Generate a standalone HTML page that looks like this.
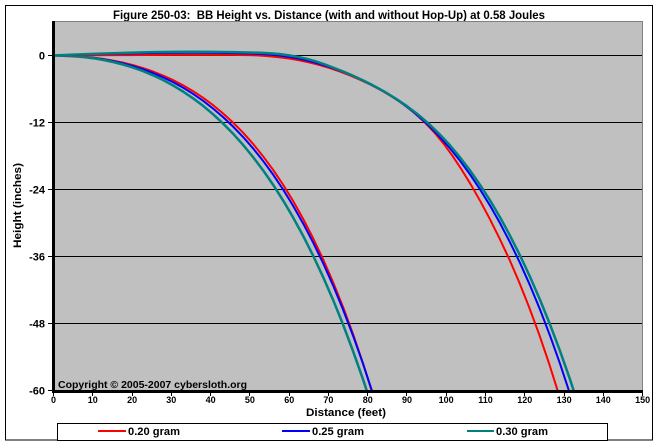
<!DOCTYPE html>
<html><head><meta charset="utf-8"><style>
html,body{margin:0;padding:0;background:#fff;}
svg{display:block;}
text{font-family:"Liberation Sans",Arial,sans-serif;font-weight:bold;fill:#000;}
</style></head><body>
<svg width="658" height="445" viewBox="0 0 658 445" xmlns="http://www.w3.org/2000/svg">
<defs><clipPath id="pc"><rect x="53" y="21" width="589" height="370"/></clipPath></defs>
<rect x="0" y="0" width="658" height="445" fill="#fff"/>
<rect x="5.5" y="5.5" width="647" height="434.5" fill="none" stroke="#000" stroke-width="1"/>
<text x="113" y="19" font-size="12" textLength="432" lengthAdjust="spacingAndGlyphs" style="white-space:pre">Figure 250-03:  BB Height vs. Distance (with and without Hop-Up) at 0.58 Joules</text>
<rect x="53" y="21" width="589" height="370" fill="#c0c0c0"/>
<g shape-rendering="crispEdges">
<line x1="53" y1="21.5" x2="642" y2="21.5" stroke="#808080" stroke-width="1"/>
<line x1="642.5" y1="21" x2="642.5" y2="391" stroke="#808080" stroke-width="1"/>
<line x1="53" y1="55.5" x2="642" y2="55.5" stroke="#000" stroke-width="1"/>
<line x1="53" y1="122.5" x2="642" y2="122.5" stroke="#000" stroke-width="1"/>
<line x1="53" y1="189.5" x2="642" y2="189.5" stroke="#000" stroke-width="1"/>
<line x1="53" y1="256.5" x2="642" y2="256.5" stroke="#000" stroke-width="1"/>
<line x1="53" y1="323.5" x2="642" y2="323.5" stroke="#000" stroke-width="1"/>
</g>
<g clip-path="url(#pc)" fill="none" stroke-linejoin="round" stroke-linecap="round">
<!-- no hop-up -->
<polyline stroke="#ff0000" stroke-width="2" points="53,55.5 63,55.6 73,56 83,56.7 93,57.6 103,58.9 113,60.6 123,62.6 133,65.1 143,68.1 153,71.5 163,75.5 173,80 183,85.2 193,91.1 203,97.7 213,105.1 223,113.4 233,122.5 243,132.6 253,143.8 263,156.2 273,169.7 283,184.5 293,200.8 303,218.6 313,238 323,259 333,282 343,306.9 353,334 363,363.3 373,395"/>
<polyline stroke="#0000ff" stroke-width="2" points="53,55.5 63,55.6 73,56.1 83,56.8 93,57.9 103,59.3 113,61.1 123,63.4 133,66.1 143,69.3 153,73 163,77.3 173,82.1 183,87.6 193,93.8 203,100.7 213,108.5 223,117 233,126.5 243,136.9 253,148.3 263,160.8 273,174.4 283,189.3 293,205.6 303,223.2 313,242.3 323,262.9 333,285.3 343,309.5 353,335.6 363,363.7 373,393.9"/>
<polyline stroke="#008080" stroke-width="2.5" points="53,55.5 63,55.7 73,56.2 83,57 93,58.2 103,59.9 113,62 123,64.5 133,67.6 143,71.1 153,75.3 163,80 173,85.4 183,91.5 193,98.3 203,105.8 213,114.2 223,123.5 233,133.6 243,144.8 253,157 263,170.2 273,184.6 283,200.3 293,217.3 303,235.6 313,255.4 323,276.8 333,299.7 343,324.4 353,351 363,379.3 373,409.8"/>
<!-- hop-up -->
<polyline stroke="#ff0000" stroke-width="2" points="53,55.5 83,55.3 113,55.15 143,55 173,54.93 203,54.9 233,54.93 239,54.94 249,55.09 259,55.5 269,56.2 279,57.2 289,58.55 299,60.26 309.1,62.37 319.2,64.91 329.3,67.91 339.6,71.42 350.1,75.46 360.8,80.04 371.7,85.23 382.7,91.11 393.7,97.71 404.5,105.11 414.9,113.35 424.9,122.51 434.5,132.64 443.7,143.84 452.7,156.17 461.7,169.71 470.8,184.56 480.1,200.81 489.6,218.57 499.3,237.94 509.2,259.04 519.1,281.98 529,306.9 539,333.95 549,363.26 559,395"/>
<polyline stroke="#0000ff" stroke-width="2" points="53,55.5 73,54.88 93,54.29 113,53.76 133,53.33 153,53.02 173,52.84 193,52.8 213,52.91 233,53.16 249.9,53.47 259.8,53.83 269.7,54.49 279.4,55.49 289.1,56.84 298.5,58.55 307.9,60.67 317.2,63.21 326.6,66.09 336.2,69.28 346,72.98 356.2,77.25 366.6,82.12 377.2,87.62 387.9,93.82 398.5,100.74 409.1,108.46 419.4,117 429.7,126.45 439.8,136.85 449.9,148.27 460,160.77 470,174.44 480,189.34 490,205.55 500,223.16 510,242.27 520,262.95 530,285.33 540,309.5 550,335.58 560,363.68 570,393.9"/>
<polyline stroke="#008080" stroke-width="2.5" points="53,55.5 73,54.68 93,53.89 113,53.19 133,52.61 153,52.17 173,51.89 193,51.8 213,51.89 233,52.17 253,52.61 259.7,52.78 269.5,53.24 279,54.05 288.4,55.22 297.6,56.81 306.5,58.79 315.3,61.23 324.1,64.14 333,67.56 342.3,71.13 352,75.28 362.3,80.02 373,85.41 384.1,91.48 395.3,98.27 406.5,105.83 417.6,114.21 428.4,123.46 439,133.63 449.5,144.77 459.7,156.95 469.9,170.23 479.9,184.66 490,200.32 500,217.28 510,235.63 520,255.42 530,276.76 540,299.72 550,324.41 560,350.91 570,379.34 580,409.78"/>
</g>
<g shape-rendering="crispEdges">
<rect x="52" y="21" width="3" height="372" fill="#000"/>
<rect x="52" y="390" width="591" height="3" fill="#000"/>
<g stroke="#000" stroke-width="1">
<line x1="48" y1="55.5" x2="52" y2="55.5"/>
<line x1="48" y1="122.5" x2="52" y2="122.5"/>
<line x1="48" y1="189.5" x2="52" y2="189.5"/>
<line x1="48" y1="256.5" x2="52" y2="256.5"/>
<line x1="48" y1="323.5" x2="52" y2="323.5"/>
<line x1="48" y1="390.5" x2="52" y2="390.5"/>
<line x1="53.5" y1="393" x2="53.5" y2="396"/>
<line x1="92.5" y1="393" x2="92.5" y2="396"/>
<line x1="132.5" y1="393" x2="132.5" y2="396"/>
<line x1="171.5" y1="393" x2="171.5" y2="396"/>
<line x1="210.5" y1="393" x2="210.5" y2="396"/>
<line x1="249.5" y1="393" x2="249.5" y2="396"/>
<line x1="289.5" y1="393" x2="289.5" y2="396"/>
<line x1="328.5" y1="393" x2="328.5" y2="396"/>
<line x1="367.5" y1="393" x2="367.5" y2="396"/>
<line x1="406.5" y1="393" x2="406.5" y2="396"/>
<line x1="446.5" y1="393" x2="446.5" y2="396"/>
<line x1="485.5" y1="393" x2="485.5" y2="396"/>
<line x1="524.5" y1="393" x2="524.5" y2="396"/>
<line x1="564.5" y1="393" x2="564.5" y2="396"/>
<line x1="603.5" y1="393" x2="603.5" y2="396"/>
<line x1="642.5" y1="393" x2="642.5" y2="396"/>
</g>
</g>
<g font-size="11" text-anchor="end">
<text x="45" y="59.5">0</text>
<text x="45" y="126.5">-12</text>
<text x="45" y="193.5">-24</text>
<text x="45" y="260.5">-36</text>
<text x="45" y="327.5">-48</text>
<text x="45" y="394.5">-60</text>
</g>
<g font-size="9" text-anchor="middle">
<text x="53.5" y="403">0</text>
<text x="92.8" y="403">10</text>
<text x="132.1" y="403">20</text>
<text x="171.3" y="403">30</text>
<text x="210.6" y="403">40</text>
<text x="249.9" y="403">50</text>
<text x="289.2" y="403">60</text>
<text x="328.4" y="403">70</text>
<text x="367.7" y="403">80</text>
<text x="407" y="403">90</text>
<text x="446.2" y="403">100</text>
<text x="485.5" y="403">110</text>
<text x="524.8" y="403">120</text>
<text x="564.1" y="403">130</text>
<text x="603.3" y="403">140</text>
<text x="642.6" y="403">150</text>
</g>
<text x="306" y="416" font-size="11" textLength="80" lengthAdjust="spacingAndGlyphs">Distance (feet)</text>
<text transform="translate(21,248) rotate(-90)" font-size="11" textLength="85" lengthAdjust="spacingAndGlyphs">Height (inches)</text>
<text x="58" y="388" font-size="10" textLength="189" lengthAdjust="spacingAndGlyphs">Copyright © 2005-2007 cybersloth.org</text>
<rect x="57.5" y="423.5" width="550" height="17" fill="#fff" stroke="#000" stroke-width="1" shape-rendering="crispEdges"/>
<g shape-rendering="crispEdges">
<rect x="98" y="430" width="28" height="2" fill="#ff0000"/>
<rect x="282" y="430" width="28" height="2" fill="#0000ff"/>
<rect x="467" y="430" width="27" height="2" fill="#008080"/>
</g>
<g font-size="11">
<text x="128" y="435" textLength="52" lengthAdjust="spacingAndGlyphs">0.20 gram</text>
<text x="312" y="435" textLength="52" lengthAdjust="spacingAndGlyphs">0.25 gram</text>
<text x="496" y="435" textLength="52" lengthAdjust="spacingAndGlyphs">0.30 gram</text>
</g>
</svg>
</body></html>
